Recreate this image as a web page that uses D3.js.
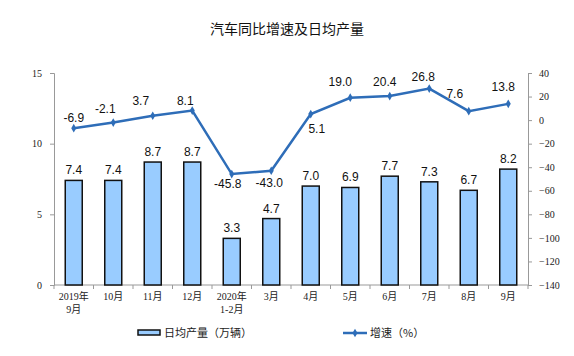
<!DOCTYPE html>
<html><head><meta charset="utf-8">
<script src="https://cdn.jsdelivr.net/npm/d3@7"></script>
<style>body{margin:0;background:#fff}svg{display:block}</style>
</head><body>
<svg id="c" width="574" height="356"></svg>
<script>
const categories = [["2019年","9月"],["10月"],["11月"],["12月"],["2020年","1-2月"],["3月"],["4月"],["5月"],["6月"],["7月"],["8月"],["9月"]];
const dailyOutput = [7.4,7.4,8.7,8.7,3.3,4.7,7.0,6.9,7.7,7.3,6.7,8.2];
const growth = [-6.9,-2.1,3.7,8.1,-45.8,-43.0,5.1,19.0,20.4,26.8,7.6,13.8];
const leftTicks = [0,5,10,15];
const rightTicks = [40,20,0,-20,-40,-60,-80,-100,-120,-140];
// label placement offsets (style config for growth labels)
const growthLabelDx = [0,-8,-12,-7,-4,-2,6,-10,-5,-6,-14,-5];
const growthLabelDy = [-6,-10,-11,-6,14,16,19,-12,-10,-8,-13,-13];

const svg = d3.select("#c");
const L=54,R=528,T=73,B=285;
const x = d3.scaleBand().domain(d3.range(categories.length)).range([L,R]);
const yL = d3.scaleLinear().domain([0,15]).range([B,T]);
const yR = d3.scaleLinear().domain([-140,40]).range([B,T]);
const axisColor="#999";
const serif="'Liberation Serif','Noto Sans CJK SC',serif";
const sans="'Liberation Sans',Arial,'Noto Sans CJK SC',sans-serif";

svg.append("text").attr("x",287).attr("y",34).attr("text-anchor","middle")
  .attr("font-family","'Noto Sans CJK SC',sans-serif").attr("font-size",14).attr("fill","#111").text("汽车同比增速及日均产量");

const gl = svg.append("g").attr("transform",`translate(${L},0)`).call(d3.axisLeft(yL).tickValues(leftTicks).tickSize(4).tickPadding(8));
gl.selectAll("path,line").attr("stroke",axisColor);
gl.selectAll("text").attr("font-family",serif).attr("font-size",10).attr("fill","#222");
const gr = svg.append("g").attr("transform",`translate(${R},0)`).call(d3.axisRight(yR).tickValues(rightTicks).tickSize(4).tickPadding(7));
gr.selectAll("path,line").attr("stroke",axisColor);
gr.selectAll("text").attr("font-family",serif).attr("font-size",10).attr("fill","#222");
const gb = svg.append("g").attr("transform",`translate(0,${B})`);
gb.append("line").attr("x1",L).attr("x2",R).attr("stroke",axisColor);
gb.selectAll("line.t").data(d3.range(categories.length+1)).join("line").attr("class","t")
  .attr("x1",i=>L+i*x.step()).attr("x2",i=>L+i*x.step()).attr("y1",0).attr("y2",4).attr("stroke",axisColor);
gb.selectAll("text").data(categories).join("text")
  .attr("x",(d,i)=>x(i)+x.bandwidth()/2).attr("y",15).attr("text-anchor","middle")
  .attr("font-family",serif).attr("font-size",10).attr("fill","#222")
  .each(function(d){const t=d3.select(this);d.forEach((s,k)=>t.append("tspan").attr("x",t.attr("x")).attr("dy",k?13:0).text(s));});

const bw=17;
svg.selectAll("rect.bar").data(dailyOutput).join("rect").attr("class","bar")
  .attr("x",(d,i)=>x(i)+x.bandwidth()/2-bw/2).attr("y",d=>yL(d)).attr("width",bw).attr("height",d=>B-yL(d))
  .attr("fill","#99ccff").attr("stroke","#111").attr("stroke-width",1.5);
svg.selectAll("text.bl").data(dailyOutput).join("text").attr("class","bl")
  .attr("x",(d,i)=>x(i)+x.bandwidth()/2).attr("y",d=>yL(d)-6).attr("text-anchor","middle")
  .attr("font-family",sans).attr("font-size",12).attr("fill","#111").text(d=>d.toFixed(1));

const lc="#2e6db8";
const cx=(i)=>x(i)+x.bandwidth()/2;
svg.append("path").datum(growth).attr("fill","none").attr("stroke",lc).attr("stroke-width",2.5)
  .attr("d",d3.line().x((d,i)=>cx(i)).y(d=>yR(d)));
svg.selectAll("path.m").data(growth).join("path").attr("class","m")
  .attr("transform",(d,i)=>`translate(${cx(i)},${yR(d)})`)
  .attr("d",d3.symbol(d3.symbolDiamond,22)).attr("fill",lc);
svg.selectAll("text.gl").data(growth).join("text").attr("class","gl")
  .attr("x",(d,i)=>cx(i)+growthLabelDx[i])
  .attr("y",(d,i)=>yR(d)+growthLabelDy[i])
  .attr("text-anchor","middle").attr("font-family",sans).attr("font-size",12).attr("fill","#111")
  .text(d=>d.toFixed(1));

const lg=svg.append("g");
lg.append("rect").attr("x",138).attr("y",330).attr("width",22).attr("height",5).attr("fill","#99ccff").attr("stroke","#111").attr("stroke-width",1.5);
lg.append("text").attr("x",164).attr("y",337).attr("font-family","'Noto Sans CJK SC',sans-serif").attr("font-size",11).attr("fill","#222").text("日均产量（万辆）");
lg.append("line").attr("x1",343).attr("x2",367).attr("y1",333).attr("y2",333).attr("stroke",lc).attr("stroke-width",2.5);
lg.append("path").attr("transform","translate(355,333)").attr("d",d3.symbol(d3.symbolDiamond,22)).attr("fill",lc);
lg.append("text").attr("x",370).attr("y",337).attr("font-family","'Noto Sans CJK SC',sans-serif").attr("font-size",11).attr("fill","#222").text("增速（%）");
</script>
</body></html>
